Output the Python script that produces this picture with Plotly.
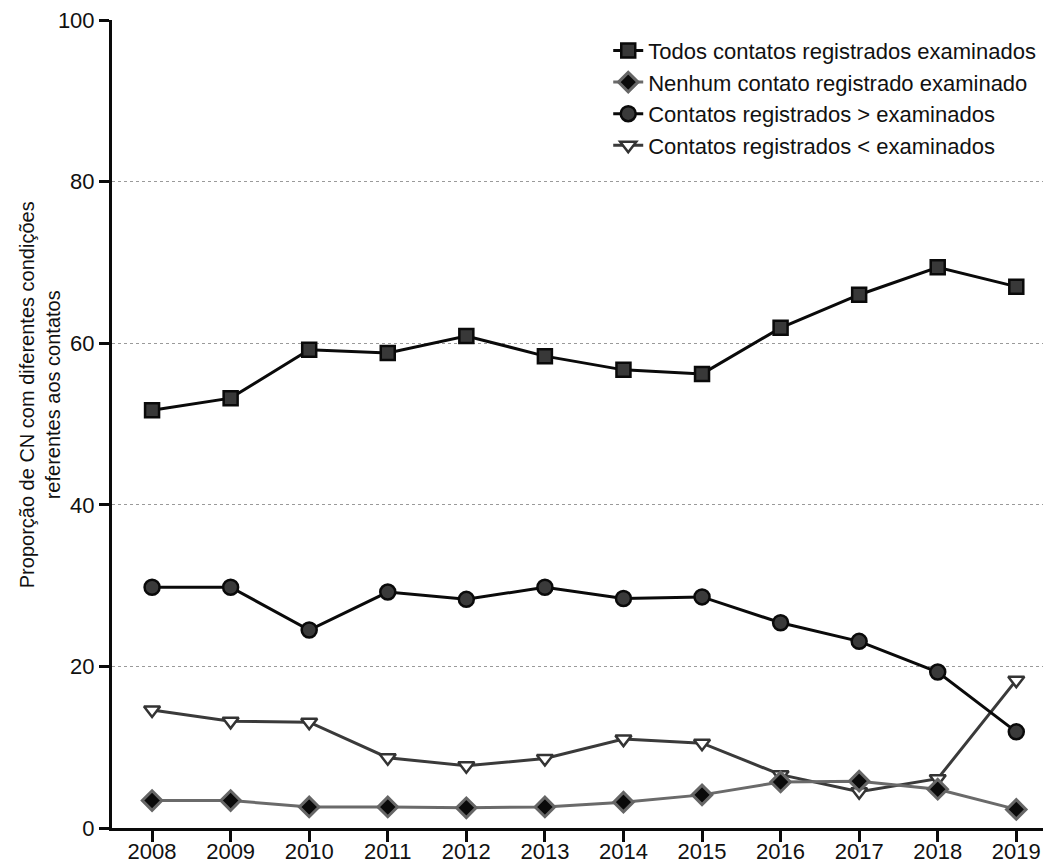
import plotly.graph_objects as go

# Anos avaliados
anos = [2008, 2009, 2010, 2011, 2012, 2013, 2014, 2015, 2016, 2017, 2018, 2019]

# Proporção (%) de casos novos segundo a condição dos contatos
todos_examinados = [51.7, 53.2, 59.2, 58.8, 60.9, 58.4, 56.7, 56.2, 61.9, 66.0, 69.4, 67.0]
nenhum_examinado = [3.4, 3.4, 2.6, 2.6, 2.5, 2.6, 3.2, 4.1, 5.7, 5.8, 4.8, 2.3]
registrados_maior = [29.8, 29.8, 24.5, 29.2, 28.3, 29.8, 28.4, 28.6, 25.4, 23.1, 19.3, 11.9]
registrados_menor = [14.6, 13.2, 13.1, 8.7, 7.7, 8.6, 11.0, 10.5, 6.6, 4.5, 6.1, 18.3]

y_ticks = [0, 20, 40, 60, 80, 100]

FONT = "Liberation Sans, Arial, sans-serif"

fig = go.Figure()

fig.add_trace(go.Scatter(
    x=anos, y=registrados_menor, name="Contatos registrados < examinados",
    mode="lines+markers", legendrank=4,
    line=dict(color="#3a3a3a", width=3),
    marker=dict(symbol="triangle-down", size=14, color="white",
                line=dict(color="#333333", width=2.5)),
))
fig.add_trace(go.Scatter(
    x=anos, y=nenhum_examinado, name="Nenhum contato registrado examinado",
    mode="lines+markers", legendrank=2,
    line=dict(color="#6a6a6a", width=3),
    marker=dict(symbol="diamond", size=15, color="#0a0a0a",
                line=dict(color="#666666", width=3)),
))
fig.add_trace(go.Scatter(
    x=anos, y=registrados_maior, name="Contatos registrados > examinados",
    mode="lines+markers", legendrank=3,
    line=dict(color="#0a0a0a", width=3),
    marker=dict(symbol="circle", size=15, color="#3a3a3a",
                line=dict(color="#0a0a0a", width=2.5)),
))
fig.add_trace(go.Scatter(
    x=anos, y=todos_examinados, name="Todos contatos registrados examinados",
    mode="lines+markers", legendrank=1,
    line=dict(color="#0a0a0a", width=3),
    marker=dict(symbol="square", size=14, color="#383838",
                line=dict(color="#0a0a0a", width=2.5)),
))

fig.update_layout(
    width=1043, height=864,
    margin=dict(l=112, r=0, t=20, b=36),
    paper_bgcolor="white", plot_bgcolor="white",
    font=dict(family=FONT, size=22, color="#111111"),
    showlegend=True,
    legend=dict(
        x=0.533, y=0.988, xanchor="left", yanchor="top",
        font=dict(family=FONT, size=22, color="#111111"),
        bgcolor="rgba(0,0,0,0)", borderwidth=0,
        tracegroupgap=0, itemwidth=30,
    ),
    xaxis=dict(
        range=[2007.49, 2019.34], automargin=False,
        tickmode="array", tickvals=anos, ticktext=[str(a) for a in anos],
        showline=True, linecolor="#0a0a0a", linewidth=3,
        ticks="outside", ticklen=11, tickwidth=3, tickcolor="#0a0a0a",
        ticklabelstandoff=-9,
        showgrid=False, zeroline=False,
        tickfont=dict(family=FONT, size=22, color="#111111"),
    ),
    yaxis=dict(
        range=[0, 100], automargin=False,
        tickmode="array", tickvals=y_ticks,
        showline=True, linecolor="#0a0a0a", linewidth=3,
        ticks="outside", ticklen=10, tickwidth=3, tickcolor="#0a0a0a",
        showgrid=True, gridcolor="#9a9a9a", gridwidth=1, griddash="dot",
        zeroline=False,
        tickfont=dict(family=FONT, size=22, color="#111111"),
    ),
    annotations=[dict(
        text="Proporção de CN com diferentes condições<br>referentes aos contatos",
        xref="paper", yref="paper", x=-0.077, y=0.536,
        xanchor="center", yanchor="middle", textangle=-90, showarrow=False,
        font=dict(family=FONT, size=20, color="#111111"),
    )],
)

fig.write_html("out.html")
